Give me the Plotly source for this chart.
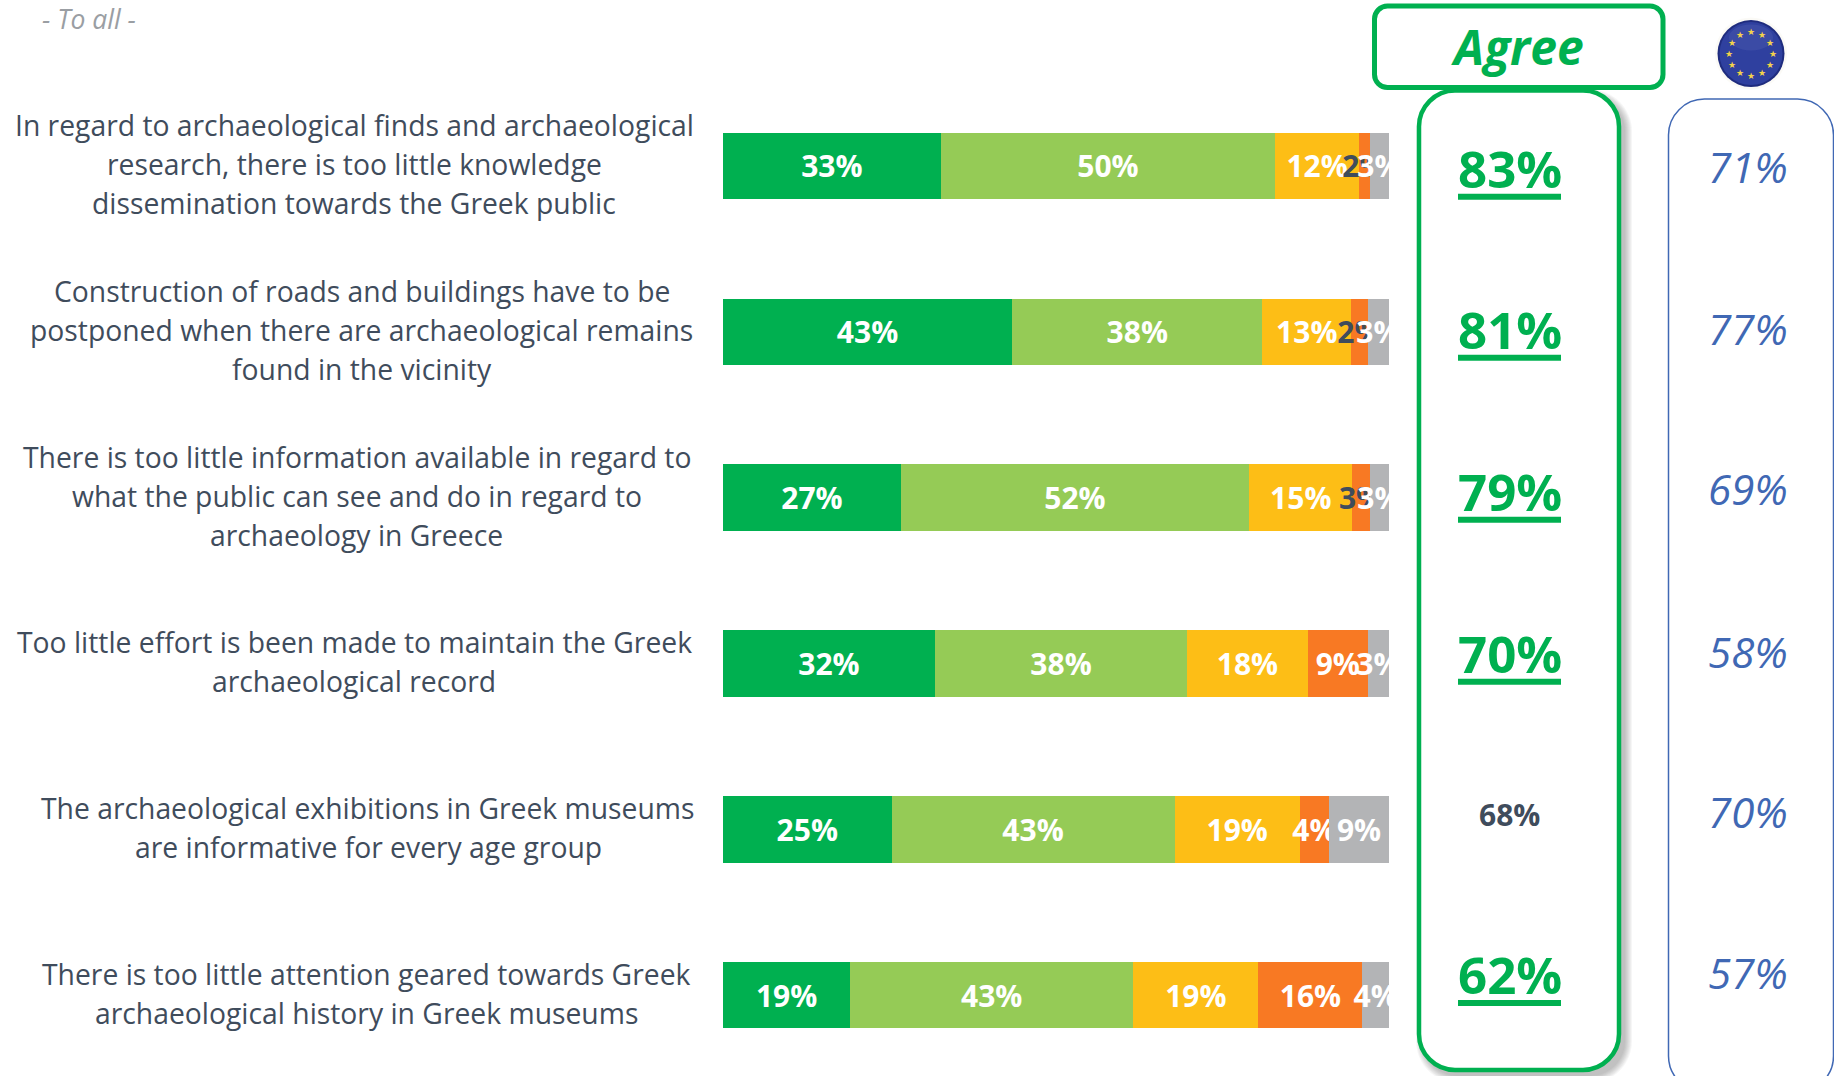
import math
import plotly.graph_objects as go

CATEGORIES = [
    "In regard to archaeological finds and archaeological<br>research, there is too little knowledge<br>dissemination towards the Greek public",
    "Construction of roads and buildings have to be<br>postponed when there are archaeological remains<br>found in the vicinity",
    "There is too little information available in regard to<br>what the public can see and do in regard to<br>archaeology in Greece",
    "Too little effort is been made to maintain the Greek<br>archaeological record",
    "The archaeological exhibitions in Greek museums<br>are informative for every age group",
    "There is too little attention geared towards Greek<br>archaeological history in Greek museums",
]
SERIES_NAMES = ["Strongly agree", "Agree", "Neutral", "Disagree", "Don't know"]
STRONGLY_AGREE = [32.7, 43.4, 26.7, 31.8, 25.3, 19.1]
AGREE = [50.2, 37.6, 52.3, 37.9, 42.5, 42.5]
NEUTRAL = [12.6, 13.3, 15.5, 18.1, 18.8, 18.8]
DISAGREE = [1.6, 2.5, 2.6, 9.0, 4.4, 15.6]
DONT_KNOW = [2.9, 3.2, 2.9, 3.2, 9.0, 4.0]
LABELS = [
    ["33%", "43%", "27%", "32%", "25%", "19%"],
    ["50%", "38%", "52%", "38%", "43%", "43%"],
    ["12%", "13%", "15%", "18%", "19%", "19%"],
    ["2%", "2%", "3%", "9%", "4%", "16%"],
    ["3%", "3%", "3%", "3%", "9%", "4%"],
]
AGREE_TOTALS = ["83%", "81%", "79%", "70%", "68%", "62%"]
EU_TOTALS = ["71%", "77%", "69%", "58%", "70%", "57%"]

COLORS = ["#00B050", "#95CB56", "#FDBE16", "#F87923", "#B3B4B6"]
DARK = "#3F4C5C"
GREEN = "#00B050"
BLUE = "#4068B4"
FONT = "Open Sans"

W, H = 1834, 1076
L, R, T, B = 723, 445, 83.4, 0
PW, PH = W - L - R, H - T - B


def px(x):
    return (x - L) / PW


def py(y):
    return 1 - (y - T) / PH


def rrect(x0, y0, x1, y1, r):
    k = 0.45 * r
    pts = [
        f"M{px(x0 + r)},{py(y0)}", f"L{px(x1 - r)},{py(y0)}",
        f"C{px(x1 - k)},{py(y0)} {px(x1)},{py(y0 + k)} {px(x1)},{py(y0 + r)}",
        f"L{px(x1)},{py(y1 - r)}",
        f"C{px(x1)},{py(y1 - k)} {px(x1 - k)},{py(y1)} {px(x1 - r)},{py(y1)}",
        f"L{px(x0 + r)},{py(y1)}",
        f"C{px(x0 + k)},{py(y1)} {px(x0)},{py(y1 - k)} {px(x0)},{py(y1 - r)}",
        f"L{px(x0)},{py(y0 + r)}",
        f"C{px(x0)},{py(y0 + k)} {px(x0 + k)},{py(y0)} {px(x0 + r)},{py(y0)}Z",
    ]
    return "".join(pts)


def rect_shape(x0, y0, x1, y1, r, fill="rgba(0,0,0,0)", line=None, width=0, opacity=1):
    return dict(type="path", xref="paper", yref="paper", path=rrect(x0, y0, x1, y1, r),
                fillcolor=fill, opacity=opacity,
                line=dict(color=line or "rgba(0,0,0,0)", width=width))


def circle(cx, cy, rx, ry, fill, opacity=1):
    return dict(type="circle", xref="paper", yref="paper",
                x0=px(cx - rx), x1=px(cx + rx), y0=py(cy + ry), y1=py(cy - ry),
                fillcolor=fill, opacity=opacity, line=dict(width=0))


def label(x, y, text, font, xanchor="center"):
    return dict(xref="paper", yref="paper", x=px(x), y=py(y), xanchor=xanchor, yanchor="middle",
                text=text, showarrow=False, font=font)


series = [STRONGLY_AGREE, AGREE, NEUTRAL, DISAGREE, DONT_KNOW]
fig = go.Figure()
for s, (name, vals) in enumerate(zip(SERIES_NAMES, series)):
    text_colors = ["white"] * len(vals)
    if s == 3:
        text_colors = [DARK, DARK, DARK, "white", "white", "white"]
    fig.add_trace(go.Bar(
        name=name, y=CATEGORIES, x=vals, orientation="h",
        marker=dict(color=COLORS[s], line=dict(width=0)),
        width=0.4, text=LABELS[s], textposition="inside", insidetextanchor="middle",
        textangle=0, constraintext="none", cliponaxis=True,
        textfont=dict(family=FONT, size=30, color=text_colors, weight="bold"),
        hoverinfo="skip", showlegend=False,
    ))

shapes = []
ann = []

# green column with soft shadow
for i in range(8, 0, -1):
    shapes.append(rect_shape(1419 + 5 - i, 91 + 7 - i, 1619 + 5 + i, 1070 + 5 + i, 34 + i,
                             fill="#555555", opacity=0.055))
shapes.append(rect_shape(1419, 91, 1619, 1070, 36, fill="white", line=GREEN, width=4.5))
# EU column
shapes.append(rect_shape(1668.5, 99.5, 1833.5, 1092, 36, fill="white", line=BLUE, width=1.5))
# Agree box
shapes.append(rect_shape(1374.5, 6.5, 1663, 88, 13, fill="white", line=GREEN, width=5))
# EU flag
shapes.append(circle(1751, 54, 36, 36, "#F4F2E6", 0.35))
shapes.append(circle(1751, 54, 33.5, 33.5, "#1F2C7E"))
shapes.append(circle(1751, 54, 31.5, 31.5, "#2F409F"))
shapes.append(circle(1751, 38, 22, 13, "#7E88C8", 0.16))
for k in range(12):
    a = math.radians(30 * k)
    ann.append(label(1751 + 22 * math.sin(a), 54 - 22 * math.cos(a), "★",
                     dict(family="DejaVu Sans", size=9, color="#F3D34A")))

# question labels, one annotation per line to reach the source's line spacing
LABEL_CENTERS = [354.4, 361.7, 356.7, 354, 368.4, 366.7]
LINE_STEP = 39
for cat, cx in zip(CATEGORIES, LABEL_CENTERS):
    lines = cat.split("<br>")
    for i, line in enumerate(lines):
        ann.append(dict(xref="paper", yref="y", x=px(cx), y=cat, xanchor="center", yanchor="middle",
                        yshift=2 - (i - (len(lines) - 1) / 2) * LINE_STEP, text=line, showarrow=False,
                        font=dict(family=FONT, size=28.3, color=DARK)))

AGREE_Y = [168, 329, 491, 653, 815, 974]
EU_Y = [167, 329, 489, 652, 812, 973]
for lab, yy in zip(AGREE_TOTALS, AGREE_Y):
    highlighted = lab != "68%"
    ann.append(label(1509.5, yy, lab, dict(family=FONT, size=51 if highlighted else 30, weight="bold",
                                           color=GREEN if highlighted else DARK)))
    if highlighted:
        shapes.append(dict(type="rect", xref="paper", yref="paper", x0=px(1458), x1=px(1561),
                           y0=py(yy + 32), y1=py(yy + 26), fillcolor=GREEN, line=dict(width=0)))
for lab, yy in zip(EU_TOTALS, EU_Y):
    ann.append(label(1748, yy, lab, dict(family=FONT, size=42, style="italic", color=BLUE)))

ann.append(label(1517, 47, "Agree", dict(family=FONT, size=48, style="italic", weight="bold", color=GREEN)))
ann.append(label(40, 19, "- To all -", dict(family=FONT, size=26.5, style="italic", color="#9A9EA3"), xanchor="left"))

fig.update_layout(
    width=W, height=H, margin=dict(l=L, r=R, t=T, b=B, pad=0),
    paper_bgcolor="white", plot_bgcolor="white",
    barmode="stack", barnorm="percent",
    xaxis=dict(range=[0, 100], visible=False, fixedrange=True),
    yaxis=dict(type="category", categoryorder="array", categoryarray=CATEGORIES,
               range=[5.487, -0.5], visible=False, fixedrange=True),
    shapes=shapes, annotations=ann,
)
fig.write_html("out.html", config=dict(displayModeBar=False),
               post_script="document.body.style.margin='0';document.body.style.overflow='hidden';")
